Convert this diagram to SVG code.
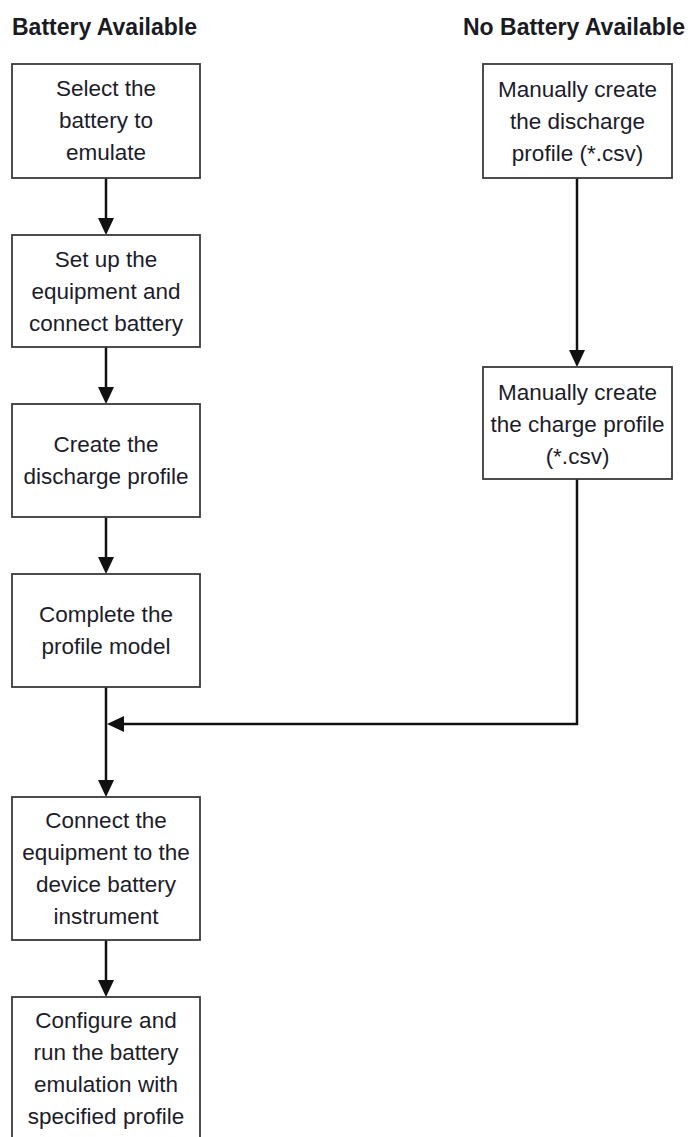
<svg xmlns="http://www.w3.org/2000/svg" width="695" height="1137" viewBox="0 0 695 1137">
<style>
.hdr{font-family:"Liberation Sans",Arial,sans-serif;font-weight:bold;font-size:23px;fill:#1a1a22}
.lbl{font-family:"Liberation Sans",Arial,sans-serif;font-size:22.5px;fill:#1c1c2a;text-anchor:middle}
.box{fill:#ffffff;stroke:#3a3a3a;stroke-width:1.8}
.wire{fill:none;stroke:#111111;stroke-width:2.5}
.head{fill:#111111}
</style>
<rect width="695" height="1137" fill="#ffffff"/>
<g id="headers">
<text class="hdr" x="12" y="35">Battery Available</text>
<text class="hdr" x="463" y="35">No Battery Available</text>
</g>
<g id="connectors">
<path class="wire" d="M106,178 V222"/><polygon class="head" points="106,235 98,218 114,218"/>
<path class="wire" d="M106,347 V391"/><polygon class="head" points="106,404 98,387 114,387"/>
<path class="wire" d="M106,517 V561"/><polygon class="head" points="106,574 98,557 114,557"/>
<path class="wire" d="M106,687 V784"/><polygon class="head" points="106,797 98,780 114,780"/>
<path class="wire" d="M106,940 V984"/><polygon class="head" points="106,997 98,980 114,980"/>
<path class="wire" d="M577,178 V354"/><polygon class="head" points="577,367 569,350 585,350"/>
<path class="wire" d="M577,479 V724 H120"/><polygon class="head" points="107,724 124,716 124,732"/>
</g>
<g id="n1"><rect class="box" x="12" y="64" width="188" height="114"/>
<text class="lbl" x="106" y="96">Select the</text><text class="lbl" x="106" y="128">battery to</text><text class="lbl" x="106" y="160">emulate</text></g>
<g id="n2"><rect class="box" x="12" y="235" width="188" height="112"/>
<text class="lbl" x="106" y="267">Set up the</text><text class="lbl" x="106" y="299">equipment and</text><text class="lbl" x="106" y="331">connect battery</text></g>
<g id="n3"><rect class="box" x="12" y="404" width="188" height="113"/>
<text class="lbl" x="106" y="452">Create the</text><text class="lbl" x="106" y="484">discharge profile</text></g>
<g id="n4"><rect class="box" x="12" y="574" width="188" height="113"/>
<text class="lbl" x="106" y="622">Complete the</text><text class="lbl" x="106" y="654">profile model</text></g>
<g id="n5"><rect class="box" x="12" y="797" width="188" height="143"/>
<text class="lbl" x="106" y="828">Connect the</text><text class="lbl" x="106" y="860">equipment to the</text><text class="lbl" x="106" y="892">device battery</text><text class="lbl" x="106" y="924">instrument</text></g>
<g id="n6"><rect class="box" x="12" y="997" width="188" height="150"/>
<text class="lbl" x="106" y="1028">Configure and</text><text class="lbl" x="106" y="1060">run the battery</text><text class="lbl" x="106" y="1092">emulation with</text><text class="lbl" x="106" y="1124">specified profile</text></g>
<g id="r1"><rect class="box" x="483" y="64" width="189" height="114"/>
<text class="lbl" x="577.5" y="97">Manually create</text><text class="lbl" x="577.5" y="129">the discharge</text><text class="lbl" x="577.5" y="161">profile (*.csv)</text></g>
<g id="r2"><rect class="box" x="483" y="367" width="189" height="112"/>
<text class="lbl" x="577.5" y="400">Manually create</text><text class="lbl" x="577.5" y="432">the charge profile</text><text class="lbl" x="577.5" y="464">(*.csv)</text></g>
</svg>
